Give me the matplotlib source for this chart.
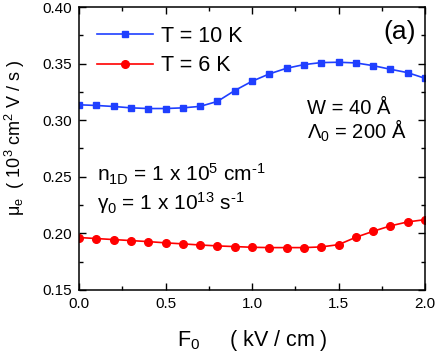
import matplotlib
matplotlib.use("Agg")
import matplotlib.pyplot as plt
from matplotlib.ticker import MultipleLocator, FormatStrFormatter

plt.rcParams['font.family'] = ['Liberation Sans', 'DejaVu Sans']
plt.rcParams['mathtext.fontset'] = 'custom'
plt.rcParams['mathtext.rm'] = 'Liberation Sans'
plt.rcParams['mathtext.it'] = 'Liberation Sans'
plt.rcParams['mathtext.sf'] = 'Liberation Sans'

F0 = [0.0, 0.1, 0.2, 0.3, 0.4, 0.5, 0.6, 0.7, 0.8, 0.9, 1.0,
      1.1, 1.2, 1.3, 1.4, 1.5, 1.6, 1.7, 1.8, 1.9, 2.0]
mu_T10 = [0.3136, 0.3130, 0.3121, 0.3109, 0.3103, 0.3103, 0.3109, 0.3122, 0.3166, 0.3262, 0.3344,
          0.3409, 0.3459, 0.3491, 0.3509, 0.3512, 0.3506, 0.3482, 0.3450, 0.3420, 0.3370]
mu_T6 = [0.1963, 0.1954, 0.1945, 0.1936, 0.1927, 0.1916, 0.1907, 0.1897, 0.1889, 0.1883, 0.1877,
         0.1874, 0.1874, 0.1874, 0.1880, 0.1900, 0.1965, 0.2018, 0.2066, 0.2101, 0.2121]
labels = ['T = 10 K', 'T = 6 K']

fig = plt.figure(figsize=(4.37, 3.51), dpi=100)
ax = fig.add_axes([0.181, 0.174, 0.7915, 0.806])

ax.plot(F0, mu_T10, color='#1f3fff', marker='s', markersize=4.5, lw=1.2, label=labels[0])
ax.plot(F0, mu_T6, color='#ff0000', marker='o', markersize=5.5, lw=1.2, label=labels[1])

ax.set_xlim(0, 2.0)
ax.set_ylim(0.15, 0.40)
ax.xaxis.set_major_locator(MultipleLocator(0.5))
ax.xaxis.set_minor_locator(MultipleLocator(0.25))
ax.yaxis.set_major_locator(MultipleLocator(0.05))
ax.yaxis.set_minor_locator(MultipleLocator(0.025))
ax.xaxis.set_major_formatter(FormatStrFormatter('%.1f'))
ax.yaxis.set_major_formatter(FormatStrFormatter('%.2f'))
ax.tick_params(which='both', direction='in', top=True, right=True, labelsize=11, width=1)
ax.tick_params(which='major', length=5, pad=5)
ax.tick_params(which='minor', length=3)
for s in ax.spines.values():
    s.set_linewidth(1.1)

ax.set_xlabel(r'F$_0$     ( kV / cm )', fontsize=15.5, labelpad=12)
ax.set_ylabel(r'$\mu_e$  ( 10$^3$ cm$^2$ V / s )', fontsize=13)
ax.yaxis.set_label_coords(-0.15, 0.537)

leg = ax.legend(loc='upper left', bbox_to_anchor=(0.052, 0.934), frameon=False, fontsize=15.5,
                handlelength=2.6, handletextpad=0.35, labelspacing=0.4,
                borderaxespad=0, borderpad=0)

ax.text(0.975, 0.955, '(a)', transform=ax.transAxes, fontsize=19, ha='right', va='top')
ax.text(0.659, 0.535, 'W = 40 Å\n' + r'$\Lambda_0$ = 200 Å', transform=ax.transAxes,
        fontsize=14.5, ha='left', va='baseline', linespacing=1.0)
ax.text(0.052, 0.385, r'n$_{1D}$ = 1 x 10$^5$ cm$^{\text{-}1}$', transform=ax.transAxes, fontsize=15, ha='left', va='baseline')
ax.text(0.052, 0.282, r'$\gamma_0$ = 1 x 10$^{13}$ s$^{\text{-}1}$', transform=ax.transAxes, fontsize=15, ha='left', va='baseline')

fig.savefig('out.png', dpi=100)
